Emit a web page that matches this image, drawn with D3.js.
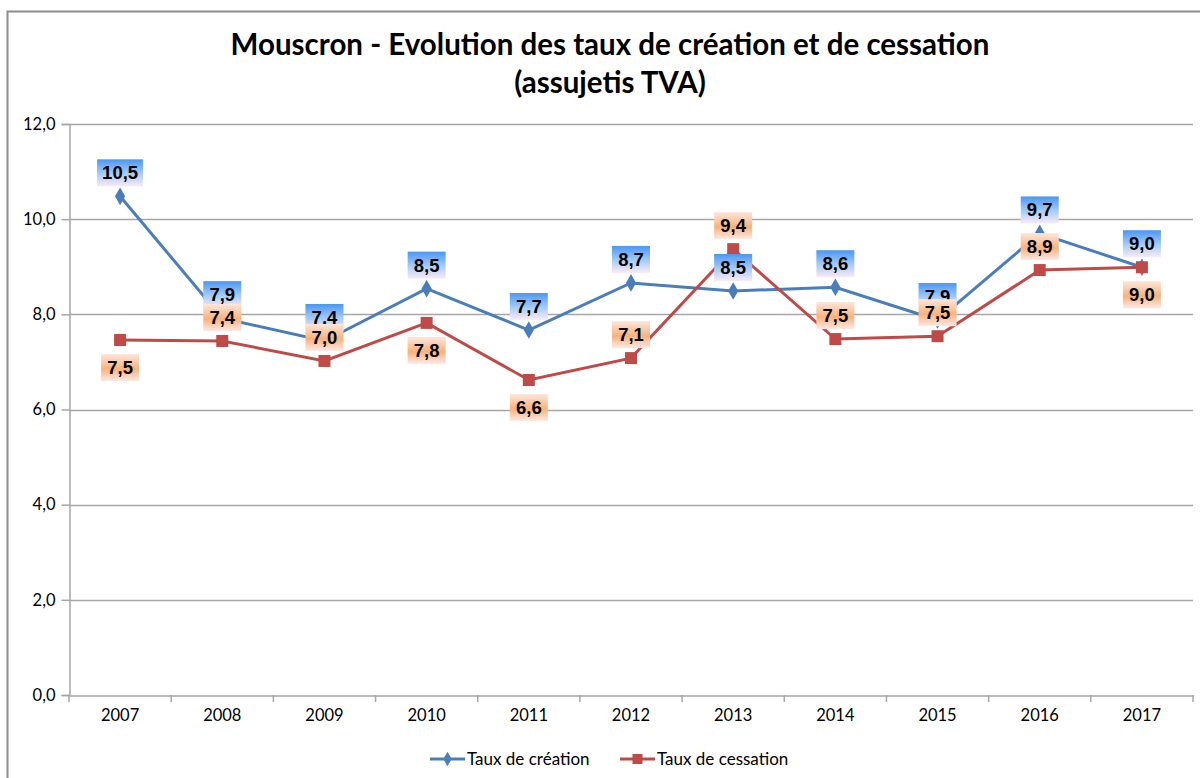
<!DOCTYPE html>
<html>
<head>
<meta charset="utf-8">
<script src="https://cdn.jsdelivr.net/npm/d3@7"></script>
<style>
  body { margin: 0; background: #fff; }
  svg { display: block; }
</style>
</head>
<body>
<div id="chart"></div>
<script>
// data
const years = ["2007", "2008", "2009", "2010", "2011", "2012", "2013", "2014", "2015", "2016", "2017"];
const creation = [10.48, 7.92, 7.44, 8.54, 7.67, 8.66, 8.49, 8.57, 7.88, 9.70, 8.99];
const cessation = [7.46, 7.44, 7.02, 7.82, 6.62, 7.08, 9.37, 7.48, 7.54, 8.93, 8.99];
// where each cessation label sits relative to its point
const cessationLabelPos = ["below", "above", "above", "below", "below", "above", "above", "above", "above", "above", "below"];
const yTicks = [0, 2, 4, 6, 8, 10, 12];

const width = 1200, height = 778;
const margin = { left: 69, right: 7, top: 124, bottom: 83 };
const font = "Lato, 'Open Sans', sans-serif";

const svg = d3.select("#chart").append("svg")
  .attr("width", width)
  .attr("height", height);

// gradients for the data labels
const defs = svg.append("defs");
const gBlue = defs.append("linearGradient").attr("id", "gBlue").attr("x1", 0).attr("y1", 0).attr("x2", 0).attr("y2", 1);
gBlue.append("stop").attr("offset", "0%").attr("stop-color", "#4a97f2");
gBlue.append("stop").attr("offset", "55%").attr("stop-color", "#a9cdf5");
gBlue.append("stop").attr("offset", "100%").attr("stop-color", "#fbeaf5");
const gOrange = defs.append("linearGradient").attr("id", "gOrange").attr("x1", 0).attr("y1", 0).attr("x2", 0).attr("y2", 1);
gOrange.append("stop").attr("offset", "0%").attr("stop-color", "#fde6dc");
gOrange.append("stop").attr("offset", "55%").attr("stop-color", "#f8b27c");
gOrange.append("stop").attr("offset", "100%").attr("stop-color", "#fde9e6");

// outer frame
svg.append("rect")
  .attr("x", 7.5).attr("y", 11.5)
  .attr("width", width + 20).attr("height", height + 20)
  .attr("fill", "none")
  .attr("stroke", "#8c8c8c")
  .attr("stroke-width", 2);

// title
const title = svg.append("text")
  .attr("x", 610).attr("y", 55)
  .attr("text-anchor", "middle")
  .style("font-family", font)
  .style("font-weight", "bold")
  .style("font-size", "29.5px")
  .attr("fill", "#000");
title.append("tspan").attr("x", 610).attr("dy", 0).text("Mouscron - Evolution des taux de création et de cessation");
title.append("tspan").attr("x", 610).attr("dy", 38).text("(assujetis TVA)");

const x = d3.scaleBand()
  .domain(years)
  .range([margin.left, width - margin.right]);

const y = d3.scaleLinear()
  .domain([0, 12])
  .range([height - margin.bottom, margin.top]);

const fmt = v => d3.format(".1f")(v).replace(".", ",");

// gridlines
svg.append("g")
  .selectAll("line")
  .data(yTicks.filter(t => t > 0))
  .join("line")
  .attr("x1", margin.left).attr("x2", width - margin.right)
  .attr("y1", d => Math.round(y(d)) + 0.5).attr("y2", d => Math.round(y(d)) + 0.5)
  .attr("stroke", "#a6a6a6")
  .attr("stroke-width", 1.5);

// y axis
const yAxis = svg.append("g")
  .attr("transform", `translate(${margin.left + 0.5},0)`)
  .call(d3.axisLeft(y).tickValues(yTicks).tickSize(8).tickPadding(6).tickFormat(fmt));
// x axis
const xAxis = svg.append("g")
  .attr("transform", `translate(0,${Math.round(y(0)) + 0.5})`)
  .call(d3.axisBottom(x).tickSize(0).tickPadding(14));
// category boundary ticks
svg.append("g")
  .selectAll("line")
  .data(d3.range(years.length + 1))
  .join("line")
  .attr("x1", i => margin.left + i * x.step())
  .attr("x2", i => margin.left + i * x.step())
  .attr("y1", y(0)).attr("y2", y(0) + 7)
  .attr("stroke", "#a6a6a6")
  .attr("stroke-width", 1.5);

[yAxis, xAxis].forEach(a => {
  a.select(".domain").attr("stroke", "#a6a6a6").attr("stroke-width", 1.5);
  a.selectAll(".tick line").attr("stroke", "#a6a6a6").attr("stroke-width", 1.5);
  a.selectAll("text")
    .style("font-family", font)
    .style("font-size", "16.5px")
    .attr("fill", "#000");
});

const cx = d => x(d) + x.bandwidth() / 2;
const line = d3.line()
  .x((d, i) => cx(years[i]))
  .y(d => y(d));

// series lines
svg.append("path").datum(creation)
  .attr("d", line).attr("fill", "none")
  .attr("stroke", "#4a7ebb").attr("stroke-width", 3);
svg.append("path").datum(cessation)
  .attr("d", line).attr("fill", "none")
  .attr("stroke", "#be4b48").attr("stroke-width", 3);

// markers
svg.append("g").selectAll("path")
  .data(creation)
  .join("path")
  .attr("d", d3.symbol(d3.symbolDiamond, 90))
  .attr("transform", (d, i) => `translate(${cx(years[i])},${y(d)})`)
  .attr("fill", "#4a7ebb");
svg.append("g").selectAll("rect")
  .data(cessation)
  .join("rect")
  .attr("x", (d, i) => cx(years[i]) - 6)
  .attr("y", d => y(d) - 6)
  .attr("width", 12).attr("height", 12)
  .attr("fill", "#be4b48");

// data labels
function drawLabels(values, positions, grad) {
  const g = svg.append("g").selectAll("g")
    .data(values)
    .join("g")
    .attr("transform", (d, i) => {
      const dy = positions[i] === "above" ? -24 : 27;
      return `translate(${cx(years[i])},${y(d) + dy})`;
    });
  g.append("rect")
    .attr("x", d => d >= 10 ? -23 : -19)
    .attr("y", -13)
    .attr("width", d => d >= 10 ? 46 : 38)
    .attr("height", 27)
    .attr("fill", `url(#${grad})`);
  g.append("text")
    .attr("text-anchor", "middle")
    .attr("y", 7)
    .style("font-family", "'Liberation Sans', Arial, sans-serif")
    .style("font-weight", "bold")
    .style("font-size", "18.5px")
    .attr("fill", "#000")
    .text(d => fmt(d));
}
drawLabels(creation, creation.map(() => "above"), "gBlue");
drawLabels(cessation, cessationLabelPos, "gOrange");

// legend
const legend = svg.append("g").attr("transform", `translate(430,759)`);
const items = [
  { name: "Taux de création", color: "#4a7ebb", shape: "diamond", x: 0 },
  { name: "Taux de cessation", color: "#be4b48", shape: "square", x: 190 }
];
items.forEach(it => {
  const g = legend.append("g").attr("transform", `translate(${it.x},0)`);
  g.append("line").attr("x1", 0).attr("x2", 35).attr("stroke", it.color).attr("stroke-width", 3);
  if (it.shape === "diamond") {
    g.append("path").attr("d", d3.symbol(d3.symbolDiamond, 60)).attr("transform", "translate(17.5,0)").attr("fill", it.color);
  } else {
    g.append("rect").attr("x", 12.5).attr("y", -5).attr("width", 10).attr("height", 10).attr("fill", it.color);
  }
  g.append("text").attr("x", 37).attr("y", 6)
    .style("font-family", font).style("font-size", "17px")
    .attr("fill", "#000").text(it.name);
});
</script>
</body>
</html>
